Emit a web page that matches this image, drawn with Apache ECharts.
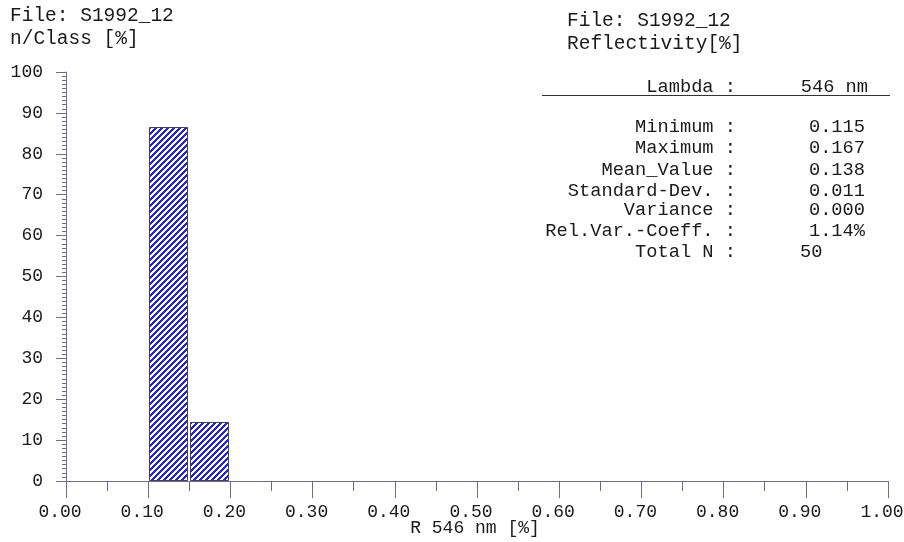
<!DOCTYPE html>
<html><head><meta charset="utf-8">
<script src="https://cdn.jsdelivr.net/npm/echarts@6/dist/echarts.min.js"></script>
<style>html,body{margin:0;padding:0;background:#fff}#c{width:904px;height:542px}</style>
</head><body><div id="c"></div>
<script>
// Histogram data (class limits in R %, frequency in %)
var binStart = [0.10, 0.15];
var binEnd = [0.15, 0.20];
var counts = [86, 14];
var xTicks = [0, 1, 0.1];      // min, max, interval
var yTicks = [0, 100, 10];
var statLabels = ['Minimum :', 'Maximum :', 'Mean_Value :', 'Standard-Dev. :', 'Variance :', 'Rel.Var.-Coeff. :', 'Total N :'];
var statValues = ['0.115', '0.167', '0.138', '0.011', '0.000', '1.14%', '50'];
var lambdaLabel = 'Lambda :';
var lambdaValue = '546 nm';
var fileName = 'File: S1992_12';

var FONT = '"Liberation Mono", "DejaVu Sans Mono", monospace';
var FS = 18;
var FT = 19.5;
var FST = 18.7;
var TXT = '#1a1a1a';
var AX = '#6b6b98';

// hatch pattern
var pc = document.createElement('canvas');
pc.width = 6; pc.height = 6;
var pctx = pc.getContext('2d');
var img = pctx.createImageData(6, 6);
for (var j = 0; j < 6; j++) for (var i = 0; i < 6; i++) {
  var k = (j * 6 + i) * 4;
  var blue = ((i + j) % 6) < 3;
  img.data[k] = blue ? 35 : 255; img.data[k+1] = blue ? 35 : 255; img.data[k+2] = blue ? 240 : 255; img.data[k+3] = 255;
}
pctx.putImageData(img, 0, 0);

var data = counts.map(function (c, i) { return [binStart[i], binEnd[i], c]; });

var chart = echarts.init(document.getElementById('c'), null, {renderer: 'canvas'});

var graphics = [
  {type: 'text', left: 10, top: 6, style: {text: fileName, font: FT + 'px ' + FONT, fill: TXT}},
  {type: 'text', left: 10, top: 29, style: {text: 'n/Class [%]', font: FT + 'px ' + FONT, fill: TXT}},
  {type: 'text', left: 567, top: 11, style: {text: fileName, font: FT + 'px ' + FONT, fill: TXT}},
  {type: 'text', left: 567, top: 34, style: {text: 'Reflectivity[%]', font: FT + 'px ' + FONT, fill: TXT}},
  {type: 'text', x: 736, y: 87, style: {text: lambdaLabel, font: FST + 'px ' + FONT, fill: TXT, align: 'right', verticalAlign: 'middle'}},
  {type: 'text', x: 868, y: 87, style: {text: lambdaValue, font: FST + 'px ' + FONT, fill: TXT, align: 'right', verticalAlign: 'middle'}},
  {type: 'line', shape: {x1: 542, y1: 95.5, x2: 890, y2: 95.5}, style: {stroke: '#333', lineWidth: 1}}
];
var rowY = [127, 148, 170, 191, 210, 231, 252];
statLabels.forEach(function (l, i) {
  graphics.push({type: 'text', x: 736, y: rowY[i], style: {text: l, font: FST + 'px ' + FONT, fill: TXT, align: 'right', verticalAlign: 'middle'}});
  var last = i === statLabels.length - 1;
  graphics.push({type: 'text', x: last ? 800 : 865, y: rowY[i], style: {text: statValues[i], font: FST + 'px ' + FONT, fill: TXT, align: last ? 'left' : 'right', verticalAlign: 'middle'}});
});

chart.setOption({
  animation: false,
  backgroundColor: '#fff',
  grid: {left: 66, right: 16, top: 72, bottom: 61, containLabel: false, outerBoundsMode: 'none'},
  xAxis: {
    type: 'value', min: xTicks[0], max: xTicks[1], interval: xTicks[2],
    name: 'R 546 nm [%]', nameLocation: 'middle', nameGap: 38, nameMoveOverlap: false,
    nameTextStyle: {fontFamily: FONT, fontSize: FS, color: TXT, padding: [0, 4, 0, 0]},
    axisLine: {show: true, onZero: false, lineStyle: {color: AX, width: 1}},
    axisTick: {show: true, length: 17, lineStyle: {color: AX}},
    minorTick: {show: true, splitNumber: 2, length: 10, lineStyle: {color: AX}},
    axisLabel: {fontFamily: FONT, fontSize: FS, color: TXT, margin: 22, padding: [0, 12, 0, 0], formatter: function (v) { return v.toFixed(2); }},
    splitLine: {show: false}
  },
  yAxis: {
    type: 'value', min: yTicks[0], max: yTicks[1], interval: yTicks[2],
    axisLine: {show: true, lineStyle: {color: AX, width: 1}},
    axisTick: {show: true, length: 10, lineStyle: {color: AX}},
    minorTick: {show: true, splitNumber: 10, length: 4, lineStyle: {color: AX}},
    axisLabel: {fontFamily: FONT, fontSize: FS, color: TXT, margin: 23},
    splitLine: {show: false}
  },
  graphic: graphics,
  series: [{
    type: 'custom',
    data: data,
    encode: {x: [0, 1], y: 2},
    renderItem: function (params, api) {
      var p0 = api.coord([api.value(0), api.value(2)]);
      var p1 = api.coord([api.value(1), 0]);
      var x0 = Math.round(p0[0]) + 1.5, x1 = Math.round(p1[0]) - 1.5;
      var y0 = Math.round(p0[1]) - 1.5, y1 = Math.round(p1[1]) - 0.5;
      return {
        type: 'rect',
        shape: {x: x0, y: y0, width: x1 - x0, height: y1 - y0},
        style: {fill: {image: pc, repeat: 'repeat'}, stroke: '#444', lineWidth: 1}
      };
    }
  }]
});
</script></body></html>
